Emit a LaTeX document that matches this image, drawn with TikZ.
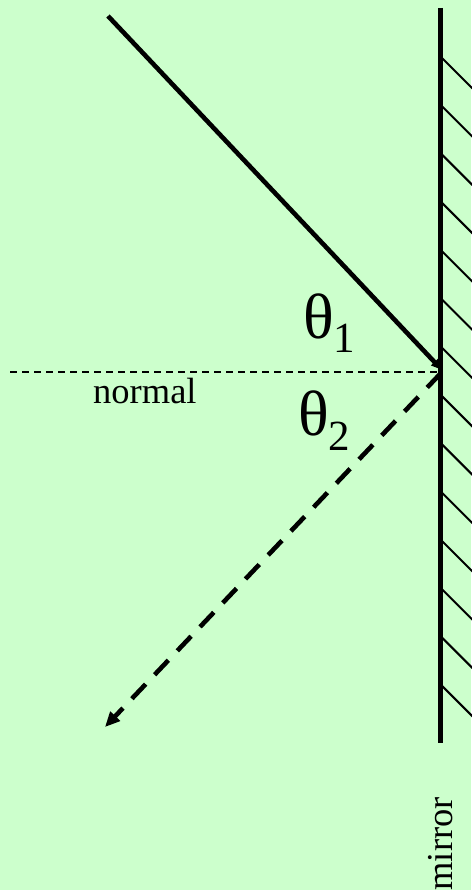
\documentclass[tikz,border=0pt]{standalone}
\usepackage{fontspec}
\setmainfont{Liberation Serif}
\usetikzlibrary{arrows.meta}
\definecolor{bggreen}{RGB}{204,255,204}
\tikzset{
  ray/.style={line width=4.6pt},
  refray/.style={line width=4.6pt, dash pattern=on 20pt off 13pt},
  normline/.style={line width=1.4pt, dash pattern=on 7pt off 5pt},
  mirrorline/.style={line width=5pt},
  hatch/.style={line width=2pt},
  tip/.style={-{Triangle[length=15pt,width=13pt]}},
  smalltip/.style={-{Triangle[length=11pt,width=9pt]}},
  lbl/.style={inner sep=0pt, font=\fontsize{36.5}{40}\selectfont},
}
\begin{document}
\begin{tikzpicture}[x=1pt,y=-1pt]
\fill[bggreen] (0,0) rectangle (471,890);
\useasboundingbox (0,0) rectangle (471,890);
% mirror
\coordinate (mtop) at (440,8);
\coordinate (mbot) at (440,743);
\draw[mirrorline] (mtop) -- (mbot);
\foreach \k in {0,...,13}{
  \draw[hatch] (442,{58+48.3*\k}) -- (474,{58+48.3*\k+32});
}
% rays
\coordinate (src) at (108,16);
\coordinate (hit) at (442,370);
\coordinate (nstart) at (10,372);
\coordinate (nend) at (438,372);
\coordinate (refl) at (105,727);
\coordinate (rstart) at (441,373);
\draw[normline] (nstart) -- (nend);
\draw[ray, smalltip] (src) -- (hit);
\draw[refray, tip] (rstart) -- (refl);
% labels
\node[inner sep=0pt, anchor=base west] (th1) at (303,338)
  {\fontsize{64}{64}\selectfont θ\raisebox{-14pt}{\fontsize{43}{43}\selectfont 1}};
\node[inner sep=0pt, anchor=base west] (th2) at (298,435)
  {\fontsize{64}{64}\selectfont θ\raisebox{-15pt}{\fontsize{43}{43}\selectfont 2}};
\node[lbl, anchor=base west] (nlabel) at (93,403) {normal};
\node[lbl, anchor=base east, rotate=90] (mlabel) at (452,797) {mirror};
\end{tikzpicture}
\end{document}
